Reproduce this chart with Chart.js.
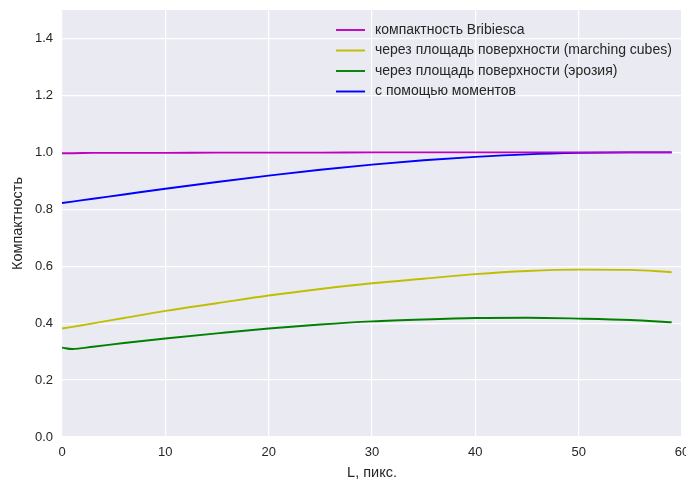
<!DOCTYPE html>
<html>
<head>
<meta charset="utf-8">
<script src="https://cdn.jsdelivr.net/npm/chart.js@4/dist/chart.umd.min.js"></script>
<style>
  html, body { margin: 0; padding: 0; background: #ffffff; }
  #wrap { width: 686px; height: 482px; }
</style>
</head>
<body>
<div id="wrap"><canvas id="c" width="686" height="482"></canvas></div>
<script>
// Line length L (pixels) at which each compactness estimate was sampled
const L = [0, 1, 3, 6, 10, 15, 20, 25, 30, 35, 40, 45, 50, 55, 59];

const bribiesca = [0.997, 0.997, 0.998, 0.998, 0.998, 0.999, 0.999, 0.999, 1.0, 1.0, 1.0, 1.0, 1.0, 1.0, 1.0];
const marchingCubes = [0.381, 0.387, 0.399, 0.418, 0.443, 0.470, 0.497, 0.520, 0.540, 0.556, 0.572, 0.583, 0.588, 0.587, 0.579];
const erosion = [0.314, 0.309, 0.317, 0.330, 0.346, 0.364, 0.381, 0.395, 0.406, 0.413, 0.418, 0.419, 0.416, 0.411, 0.403];
const moments = [0.822, 0.827, 0.837, 0.852, 0.872, 0.896, 0.918, 0.939, 0.957, 0.972, 0.984, 0.993, 0.998, 1.0, 1.0];

const seriesLabels = [
  'компактность Bribiesca',
  'через площадь поверхности (marching cubes)',
  'через площадь поверхности (эрозия)',
  'с помощью моментов'
];
const seriesColors = ['#bf00bf', '#bfbf00', '#008000', '#0000ff'];
const seriesValues = [bribiesca, marchingCubes, erosion, moments];

const xTitle = 'L, пикс.';
const yTitle = 'Компактность';

const FONT = '"Liberation Sans", Arial, sans-serif';
const TEXT = '#262626';

const datasets = seriesValues.map((vals, i) => ({
  label: seriesLabels[i],
  data: vals.map((v, j) => ({ x: L[j], y: v })),
  borderColor: seriesColors[i],
  backgroundColor: seriesColors[i],
  borderWidth: 1.9,
  pointRadius: 0,
  cubicInterpolationMode: 'monotone',
  fill: false
}));

// Grey plotting surface behind grid
const panelBg = {
  id: 'panelBg',
  beforeDraw(chart) {
    const { ctx, chartArea: a } = chart;
    ctx.save();
    ctx.fillStyle = '#eaeaf2';
    ctx.fillRect(a.left, a.top, a.right - a.left, a.bottom - a.top);
    ctx.restore();
  }
};

// Legend drawn inside the plot, upper right
const innerLegend = {
  id: 'innerLegend',
  afterDatasetsDraw(chart) {
    const { ctx } = chart;
    const x0 = 336, x1 = 365, tx = 375;
    const rows = [30, 50.5, 71, 91.5];
    ctx.save();
    ctx.font = '14px ' + FONT;
    ctx.textBaseline = 'middle';
    ctx.textAlign = 'left';
    chart.data.datasets.forEach((ds, i) => {
      ctx.strokeStyle = ds.borderColor;
      ctx.lineWidth = 1.9;
      ctx.beginPath();
      ctx.moveTo(x0, rows[i]);
      ctx.lineTo(x1, rows[i]);
      ctx.stroke();
      ctx.fillStyle = TEXT;
      ctx.fillText(ds.label, tx, rows[i]);
    });
    ctx.restore();
  }
};

new Chart(document.getElementById('c'), {
  type: 'line',
  data: { datasets },
  plugins: [panelBg, innerLegend],
  options: {
    responsive: false,
    animation: false,
    devicePixelRatio: 1,
    layout: { padding: { top: 10, left: 0, right: 4, bottom: 0 } },
    plugins: { legend: { display: false }, tooltip: { enabled: false } },
    scales: {
      x: {
        type: 'linear',
        min: 0,
        max: 60,
        border: { display: false },
        grid: { color: '#ffffff', lineWidth: 1.2, drawTicks: false },
        ticks: { stepSize: 10, padding: 8, color: TEXT, font: { family: FONT, size: 13 } },
        title: { display: true, text: xTitle, color: TEXT, font: { family: FONT, size: 14.5 }, padding: { top: 4, bottom: 0 } },
        afterFit(scale) { scale.height = 45; scale.paddingLeft = 0; scale.paddingRight = 0; }
      },
      y: {
        min: 0,
        max: 1.5,
        border: { display: false },
        grid: { color: '#ffffff', lineWidth: 1.2, drawTicks: false },
        ticks: {
          stepSize: 0.2,
          includeBounds: false,
          padding: 9,
          color: TEXT,
          font: { family: FONT, size: 13 },
          callback: v => v.toFixed(1)
        },
        title: { display: true, text: yTitle, color: TEXT, font: { family: FONT, size: 14.5 }, padding: { top: 9, bottom: 4 } },
        afterFit(scale) { scale.width = 62; scale.paddingTop = 0; scale.paddingBottom = 0; }
      }
    }
  }
});
</script>
</body>
</html>
